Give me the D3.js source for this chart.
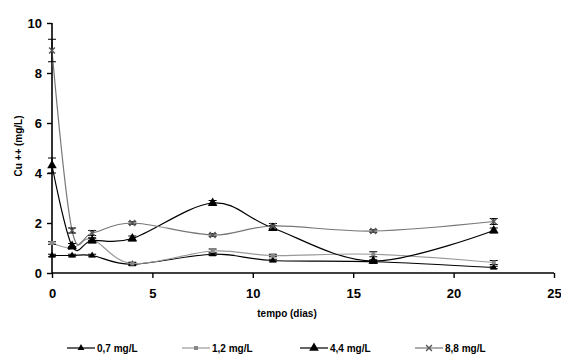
<!DOCTYPE html>
<html><head><meta charset="utf-8">
<script src="https://cdn.jsdelivr.net/npm/d3@7"></script>
<style>
body{margin:0;background:#fff;}
svg{display:block;font-family:"Liberation Sans",Arial,sans-serif;}
</style></head>
<body><svg id="c" width="561" height="354"></svg>
<script>
const days = [0, 1, 2, 4, 8, 11, 16, 22];
const seriesNames = ["0,7 mg/L", "1,2 mg/L", "4,4 mg/L", "8,8 mg/L"];
const s07 = [0.7, 0.7, 0.7, 0.35, 0.75, 0.5, 0.45, 0.22];
const s12 = [1.2, 1.0, 1.35, 0.38, 0.88, 0.7, 0.75, 0.42];
const s44 = [4.3, 1.08, 1.3, 1.38, 2.8, 1.8, 0.48, 1.7];
const s88 = [8.9, 1.7, 1.6, 2.0, 1.52, 1.88, 1.68, 2.06];
const e07 = [0.05, 0.05, 0.05, 0.05, 0.05, 0.05, 0.05, 0.05];
const e12 = [0.05, 0.05, 0.05, 0.05, 0.08, 0.05, 0.1, 0.08];
const e44 = [0.3, 0.1, 0.1, 0.1, 0.1, 0.1, 0.05, 0.1];
const e88 = [0.45, 0.1, 0.1, 0.05, 0.05, 0.1, 0.05, 0.12];
const xTicks = [0, 5, 10, 15, 20, 25];
const yTicks = [0, 2, 4, 6, 8, 10];

const svg = d3.select("#c");
const x = d3.scaleLinear().domain([0, 25]).range([52, 554]);
const y = d3.scaleLinear().domain([0, 10]).range([273, 23]);

const ya = svg.append("g").attr("transform","translate(52,0)")
  .call(d3.axisLeft(y).tickValues(yTicks).tickSize(5).tickPadding(5).tickFormat(d3.format("d")));
const xa = svg.append("g").attr("transform","translate(0,273)")
  .call(d3.axisBottom(x).tickValues(xTicks).tickSize(5).tickPadding(11).tickFormat(d3.format("d")));
[ya, xa].forEach(a => {
  a.select(".domain").attr("stroke","#000").attr("stroke-width",1.6);
  a.selectAll(".tick line").attr("stroke","#000").attr("stroke-width",1.4);
  a.selectAll(".tick text").attr("fill","#000").style("font-size","13px").style("font-weight","bold");
});
ya.select(".domain").attr("d","M0,23V273");
xa.select(".domain").attr("d","M52,0H554");

svg.append("text").attr("transform","translate(22,146) rotate(-90)")
  .attr("text-anchor","middle").style("font-size","10px").style("font-weight","bold")
  .text("Cu ++ (mg/L)");
svg.append("text").attr("x",287).attr("y",317).attr("text-anchor","middle")
  .style("font-size","10px").style("font-weight","bold").text("tempo (dias)");

const series = [
  {name: seriesNames[0], v: s07, e: e07, color: "#000", marker: "smalltri"},
  {name: seriesNames[1], v: s12, e: e12, color: "#999", marker: "square"},
  {name: seriesNames[2], v: s44, e: e44, color: "#000", marker: "bigtri"},
  {name: seriesNames[3], v: s88, e: e88, color: "#777", marker: "cross"}
];

const line = d3.line().x(d => x(d[0])).y(d => y(d[1])).curve(d3.curveCardinal.tension(0));

function drawMarker(g, type, cx, cy){
  if(type === "smalltri"){
    g.append("path").attr("d", d3.symbol(d3.symbolTriangle, 20)()).attr("transform",`translate(${cx},${cy})`).attr("fill","#000");
  } else if(type === "square"){
    g.append("rect").attr("x",cx-2).attr("y",cy-2).attr("width",4).attr("height",4).attr("fill","#888");
  } else if(type === "bigtri"){
    g.append("path").attr("d", d3.symbol(d3.symbolTriangle, 40)()).attr("transform",`translate(${cx},${cy})`).attr("fill","#000");
  } else {
    g.append("path").attr("d", d3.symbol(d3.symbolX, 24)()).attr("transform",`translate(${cx},${cy})`).attr("fill","none").attr("stroke","#555").attr("stroke-width",1.4);
  }
}

series.forEach(s => {
  const pts = days.map((d,i) => [d, s.v[i]]);
  const g = svg.append("g");
  g.append("path").attr("d", line(pts)).attr("fill","none").attr("stroke", s.color).attr("stroke-width",1.2);
  pts.forEach((p,i) => {
    const cx = x(p[0]), y1 = y(p[1] + s.e[i]), y2 = y(p[1] - s.e[i]);
    g.append("line").attr("x1",cx).attr("x2",cx).attr("y1",y1).attr("y2",y2).attr("stroke","#000").attr("stroke-width",1);
    [y1, y2].forEach(yy => g.append("line").attr("x1",cx-4).attr("x2",cx+4).attr("y1",yy).attr("y2",yy).attr("stroke","#000").attr("stroke-width",1));
    drawMarker(g, s.marker, cx, y(p[1]));
  });
});

const legX = [67, 182, 300, 415];
const lg = svg.append("g");
series.forEach((s,i) => {
  const lx = legX[i], ly = 348;
  lg.append("line").attr("x1",lx).attr("x2",lx+28).attr("y1",ly).attr("y2",ly).attr("stroke",s.color).attr("stroke-width",1.2);
  drawMarker(lg, s.marker, lx+14, ly);
  lg.append("text").attr("x",lx+30).attr("y",ly+4).style("font-size","10px").style("font-weight","bold").text(s.name);
});
</script></body></html>
